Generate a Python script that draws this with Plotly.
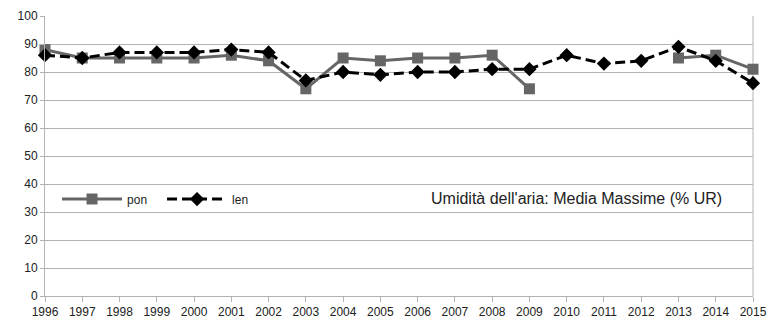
import plotly.graph_objects as go

years = list(range(1996, 2016))
pon = [88, 85, 85, 85, 85, 86, 84, 74, 85, 84, 85, 85, 86, 74, None, None, None, 85, 86, 81]
len_ = [86, 85, 87, 87, 87, 88, 87, 77, 80, 79, 80, 80, 81, 81, 86, 83, 84, 89, 84, 76]
y_ticks = list(range(0, 101, 10))
title_text = "Umidità dell'aria: Media Massime (% UR)"

fig = go.Figure()
fig.add_trace(go.Scatter(
    x=years, y=pon, name="pon", mode="lines+markers",
    line=dict(color="#666666", width=3),
    marker=dict(symbol="square", size=11, color="#666666"),
    connectgaps=False, cliponaxis=False,
))
fig.add_trace(go.Scatter(
    x=years, y=len_, name="len", mode="lines+markers",
    line=dict(color="#000000", width=3, dash="10px,5px"),
    marker=dict(symbol="diamond", size=11, color="#000000"),
    cliponaxis=False,
))

fig.update_layout(
    width=769, height=322,
    margin=dict(l=45, r=16, t=16, b=26, autoexpand=False),
    paper_bgcolor="white", plot_bgcolor="white",
    font=dict(family="Liberation Sans, Arial, sans-serif", size=12, color="#222222"),
    showlegend=True,
    legend=dict(
        orientation="h", x=0.017, y=0.346, xanchor="left", yanchor="middle",
        bgcolor="rgba(0,0,0,0)", font=dict(size=12), itemwidth=60,
        entrywidth=30, entrywidthmode="pixels", tracegroupgap=0,
    ),
    annotations=[dict(
        text=title_text, x=0.75, y=0.35, xref="paper", yref="paper",
        showarrow=False, font=dict(size=16, color="#222222"),
        xanchor="center", yanchor="middle",
    )],
)
fig.update_xaxes(
    range=[1996, 2015], tickmode="array", tickvals=years,
    ticktext=[str(y) for y in years], automargin=False,
    showgrid=False, zeroline=False,
    showline=True, linecolor="#b3b3b3", linewidth=1, mirror=False,
    ticks="outside", ticklen=5, tickcolor="#b3b3b3",
    tickfont=dict(size=12),
)
fig.update_yaxes(
    range=[0, 100], tickmode="array", tickvals=y_ticks, automargin=False,
    showgrid=True, gridcolor="#b3b3b3", gridwidth=1, zeroline=False,
    showline=True, linecolor="#b3b3b3", linewidth=1,
    ticks="outside", ticklen=4, tickcolor="#b3b3b3",
    tickfont=dict(size=12),
)
fig.add_shape(type="line", xref="paper", yref="paper", x0=1, x1=1, y0=0, y1=1,
              line=dict(color="#b3b3b3", width=1), layer="below")

fig.write_html("out.html")
